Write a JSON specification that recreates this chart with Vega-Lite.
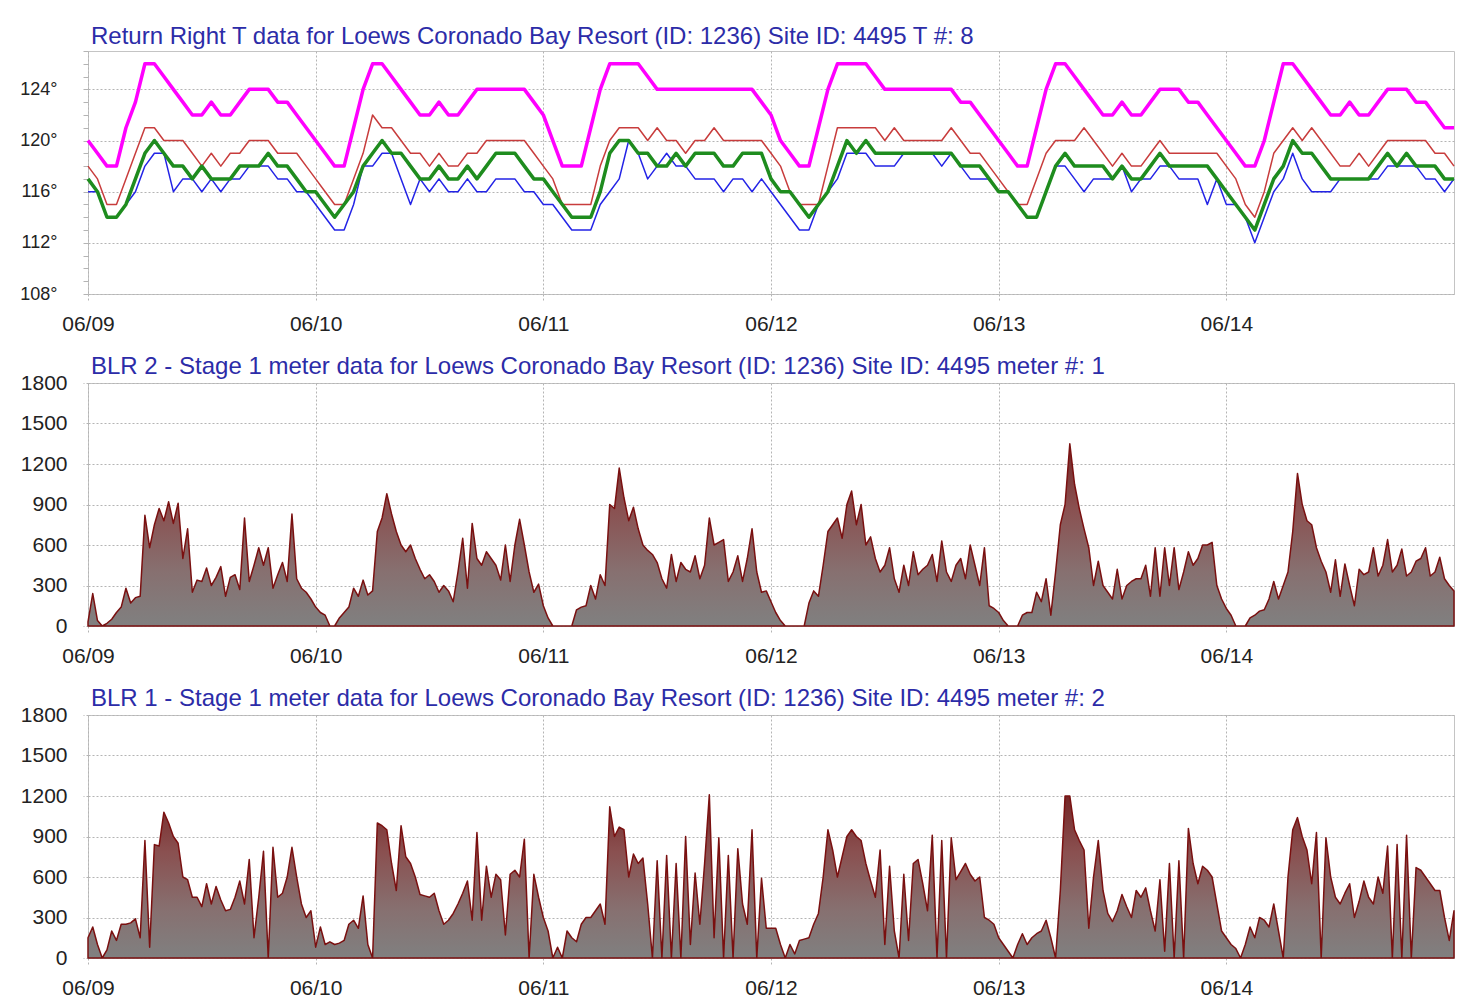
{
"$schema": "https://vega.github.io/schema/vega-lite/v6.json",
"background": "white",
"padding": {"left": 19, "top": 24, "right": 12, "bottom": 4},
"config": {
 "font": "Liberation Sans",
 "view": {"stroke": "#c4c4c4", "strokeWidth": 1},
 "axis": {"labelFont": "Liberation Sans", "labelColor": "#222222", "domain": false, "gridColor": "#b4b4b4", "gridDash": [2, 2], "gridWidth": 1, "tickColor": "#b4b4b4", "tickDash": [2, 2], "title": null},
 "title": {"font": "Liberation Sans", "fontSize": 24, "fontWeight": "normal", "color": "#2c2ca8", "anchor": "start", "frame": "group", "offset": -7, "dx": 3},
 "concat": {"spacing": 19}
},
"datasets": {
"temp": [
{"d":"2014-06-09T00:00","m":120,"r":118,"g":117,"b":116},
{"d":"2014-06-09T01:00","m":119,"r":117,"g":116,"b":116},
{"d":"2014-06-09T02:00","m":118,"r":115,"g":114,"b":114},
{"d":"2014-06-09T03:00","m":118,"r":115,"g":114,"b":114},
{"d":"2014-06-09T04:00","m":121,"r":117,"g":115,"b":115},
{"d":"2014-06-09T05:00","m":123,"r":119,"g":117,"b":116},
{"d":"2014-06-09T06:00","m":126,"r":121,"g":119,"b":118},
{"d":"2014-06-09T07:00","m":126,"r":121,"g":120,"b":119},
{"d":"2014-06-09T08:00","m":125,"r":120,"g":119,"b":119},
{"d":"2014-06-09T09:00","m":124,"r":120,"g":118,"b":116},
{"d":"2014-06-09T10:00","m":123,"r":120,"g":118,"b":117},
{"d":"2014-06-09T11:00","m":122,"r":119,"g":117,"b":117},
{"d":"2014-06-09T12:00","m":122,"r":118,"g":118,"b":116},
{"d":"2014-06-09T13:00","m":123,"r":119,"g":117,"b":117},
{"d":"2014-06-09T14:00","m":122,"r":118,"g":117,"b":116},
{"d":"2014-06-09T15:00","m":122,"r":119,"g":117,"b":117},
{"d":"2014-06-09T16:00","m":123,"r":119,"g":118,"b":117},
{"d":"2014-06-09T17:00","m":124,"r":120,"g":118,"b":118},
{"d":"2014-06-09T18:00","m":124,"r":120,"g":118,"b":118},
{"d":"2014-06-09T19:00","m":124,"r":120,"g":119,"b":118},
{"d":"2014-06-09T20:00","m":123,"r":119,"g":118,"b":117},
{"d":"2014-06-09T21:00","m":123,"r":119,"g":118,"b":117},
{"d":"2014-06-09T22:00","m":122,"r":119,"g":117,"b":116},
{"d":"2014-06-09T23:00","m":121,"r":118,"g":116,"b":116},
{"d":"2014-06-10T00:00","m":120,"r":117,"g":116,"b":115},
{"d":"2014-06-10T01:00","m":119,"r":116,"g":115,"b":114},
{"d":"2014-06-10T02:00","m":118,"r":115,"g":114,"b":113},
{"d":"2014-06-10T03:00","m":118,"r":115,"g":115,"b":113},
{"d":"2014-06-10T04:00","m":121,"r":117,"g":116,"b":115},
{"d":"2014-06-10T05:00","m":124,"r":119,"g":118,"b":118},
{"d":"2014-06-10T06:00","m":126,"r":122,"g":119,"b":118},
{"d":"2014-06-10T07:00","m":126,"r":121,"g":120,"b":119},
{"d":"2014-06-10T08:00","m":125,"r":121,"g":119,"b":119},
{"d":"2014-06-10T09:00","m":124,"r":120,"g":119,"b":117},
{"d":"2014-06-10T10:00","m":123,"r":119,"g":118,"b":115},
{"d":"2014-06-10T11:00","m":122,"r":119,"g":117,"b":117},
{"d":"2014-06-10T12:00","m":122,"r":118,"g":117,"b":116},
{"d":"2014-06-10T13:00","m":123,"r":119,"g":118,"b":117},
{"d":"2014-06-10T14:00","m":122,"r":118,"g":117,"b":116},
{"d":"2014-06-10T15:00","m":122,"r":118,"g":117,"b":116},
{"d":"2014-06-10T16:00","m":123,"r":119,"g":118,"b":117},
{"d":"2014-06-10T17:00","m":124,"r":119,"g":117,"b":116},
{"d":"2014-06-10T18:00","m":124,"r":120,"g":118,"b":116},
{"d":"2014-06-10T19:00","m":124,"r":120,"g":119,"b":117},
{"d":"2014-06-10T20:00","m":124,"r":120,"g":119,"b":117},
{"d":"2014-06-10T21:00","m":124,"r":120,"g":119,"b":117},
{"d":"2014-06-10T22:00","m":124,"r":120,"g":118,"b":116},
{"d":"2014-06-10T23:00","m":123,"r":119,"g":117,"b":116},
{"d":"2014-06-11T00:00","m":122,"r":118,"g":117,"b":115},
{"d":"2014-06-11T01:00","m":120,"r":117,"g":116,"b":115},
{"d":"2014-06-11T02:00","m":118,"r":115,"g":115,"b":114},
{"d":"2014-06-11T03:00","m":118,"r":115,"g":114,"b":113},
{"d":"2014-06-11T04:00","m":118,"r":115,"g":114,"b":113},
{"d":"2014-06-11T05:00","m":121,"r":115,"g":114,"b":113},
{"d":"2014-06-11T06:00","m":124,"r":118,"g":116,"b":115},
{"d":"2014-06-11T07:00","m":126,"r":120,"g":119,"b":116},
{"d":"2014-06-11T08:00","m":126,"r":121,"g":120,"b":117},
{"d":"2014-06-11T09:00","m":126,"r":121,"g":120,"b":120},
{"d":"2014-06-11T10:00","m":126,"r":121,"g":119,"b":119},
{"d":"2014-06-11T11:00","m":125,"r":120,"g":119,"b":117},
{"d":"2014-06-11T12:00","m":124,"r":121,"g":118,"b":118},
{"d":"2014-06-11T13:00","m":124,"r":120,"g":118,"b":119},
{"d":"2014-06-11T14:00","m":124,"r":120,"g":119,"b":118},
{"d":"2014-06-11T15:00","m":124,"r":119,"g":118,"b":118},
{"d":"2014-06-11T16:00","m":124,"r":120,"g":119,"b":117},
{"d":"2014-06-11T17:00","m":124,"r":120,"g":119,"b":117},
{"d":"2014-06-11T18:00","m":124,"r":121,"g":119,"b":117},
{"d":"2014-06-11T19:00","m":124,"r":120,"g":118,"b":116},
{"d":"2014-06-11T20:00","m":124,"r":120,"g":118,"b":117},
{"d":"2014-06-11T21:00","m":124,"r":120,"g":119,"b":117},
{"d":"2014-06-11T22:00","m":124,"r":120,"g":119,"b":116},
{"d":"2014-06-11T23:00","m":123,"r":120,"g":119,"b":117},
{"d":"2014-06-12T00:00","m":122,"r":119,"g":117,"b":116},
{"d":"2014-06-12T01:00","m":120,"r":118,"g":116,"b":115},
{"d":"2014-06-12T02:00","m":119,"r":116,"g":116,"b":114},
{"d":"2014-06-12T03:00","m":118,"r":115,"g":115,"b":113},
{"d":"2014-06-12T04:00","m":118,"r":115,"g":114,"b":113},
{"d":"2014-06-12T05:00","m":121,"r":115,"g":115,"b":115},
{"d":"2014-06-12T06:00","m":124,"r":118,"g":116,"b":116},
{"d":"2014-06-12T07:00","m":126,"r":121,"g":118,"b":117},
{"d":"2014-06-12T08:00","m":126,"r":121,"g":120,"b":119},
{"d":"2014-06-12T09:00","m":126,"r":121,"g":119,"b":119},
{"d":"2014-06-12T10:00","m":126,"r":121,"g":120,"b":119},
{"d":"2014-06-12T11:00","m":125,"r":121,"g":119,"b":118},
{"d":"2014-06-12T12:00","m":124,"r":120,"g":119,"b":118},
{"d":"2014-06-12T13:00","m":124,"r":121,"g":119,"b":118},
{"d":"2014-06-12T14:00","m":124,"r":120,"g":119,"b":119},
{"d":"2014-06-12T15:00","m":124,"r":120,"g":119,"b":119},
{"d":"2014-06-12T16:00","m":124,"r":120,"g":119,"b":119},
{"d":"2014-06-12T17:00","m":124,"r":120,"g":119,"b":119},
{"d":"2014-06-12T18:00","m":124,"r":120,"g":119,"b":118},
{"d":"2014-06-12T19:00","m":124,"r":121,"g":119,"b":119},
{"d":"2014-06-12T20:00","m":123,"r":120,"g":118,"b":118},
{"d":"2014-06-12T21:00","m":123,"r":119,"g":118,"b":117},
{"d":"2014-06-12T22:00","m":122,"r":119,"g":118,"b":117},
{"d":"2014-06-12T23:00","m":121,"r":118,"g":117,"b":117},
{"d":"2014-06-13T00:00","m":120,"r":117,"g":116,"b":116},
{"d":"2014-06-13T01:00","m":119,"r":116,"g":116,"b":116},
{"d":"2014-06-13T02:00","m":118,"r":115,"g":115,"b":115},
{"d":"2014-06-13T03:00","m":118,"r":115,"g":114,"b":114},
{"d":"2014-06-13T04:00","m":121,"r":117,"g":114,"b":114},
{"d":"2014-06-13T05:00","m":124,"r":119,"g":116,"b":116},
{"d":"2014-06-13T06:00","m":126,"r":120,"g":118,"b":118},
{"d":"2014-06-13T07:00","m":126,"r":120,"g":119,"b":118},
{"d":"2014-06-13T08:00","m":125,"r":120,"g":118,"b":117},
{"d":"2014-06-13T09:00","m":124,"r":121,"g":118,"b":116},
{"d":"2014-06-13T10:00","m":123,"r":120,"g":118,"b":117},
{"d":"2014-06-13T11:00","m":122,"r":119,"g":118,"b":117},
{"d":"2014-06-13T12:00","m":122,"r":118,"g":117,"b":117},
{"d":"2014-06-13T13:00","m":123,"r":119,"g":118,"b":118},
{"d":"2014-06-13T14:00","m":122,"r":118,"g":117,"b":116},
{"d":"2014-06-13T15:00","m":122,"r":118,"g":117,"b":117},
{"d":"2014-06-13T16:00","m":123,"r":119,"g":118,"b":117},
{"d":"2014-06-13T17:00","m":124,"r":120,"g":119,"b":118},
{"d":"2014-06-13T18:00","m":124,"r":119,"g":118,"b":118},
{"d":"2014-06-13T19:00","m":124,"r":119,"g":118,"b":117},
{"d":"2014-06-13T20:00","m":123,"r":119,"g":118,"b":117},
{"d":"2014-06-13T21:00","m":123,"r":119,"g":118,"b":117},
{"d":"2014-06-13T22:00","m":122,"r":119,"g":118,"b":115},
{"d":"2014-06-13T23:00","m":121,"r":119,"g":117,"b":117},
{"d":"2014-06-14T00:00","m":120,"r":118,"g":116,"b":115},
{"d":"2014-06-14T01:00","m":119,"r":117,"g":115,"b":115},
{"d":"2014-06-14T02:00","m":118,"r":115,"g":114,"b":114},
{"d":"2014-06-14T03:00","m":118,"r":114,"g":113,"b":112},
{"d":"2014-06-14T04:00","m":120,"r":116,"g":115,"b":114},
{"d":"2014-06-14T05:00","m":123,"r":119,"g":117,"b":116},
{"d":"2014-06-14T06:00","m":126,"r":120,"g":118,"b":117},
{"d":"2014-06-14T07:00","m":126,"r":121,"g":120,"b":119},
{"d":"2014-06-14T08:00","m":125,"r":120,"g":119,"b":117},
{"d":"2014-06-14T09:00","m":124,"r":121,"g":119,"b":116},
{"d":"2014-06-14T10:00","m":123,"r":120,"g":118,"b":116},
{"d":"2014-06-14T11:00","m":122,"r":119,"g":117,"b":116},
{"d":"2014-06-14T12:00","m":122,"r":118,"g":117,"b":117},
{"d":"2014-06-14T13:00","m":123,"r":118,"g":117,"b":117},
{"d":"2014-06-14T14:00","m":122,"r":119,"g":117,"b":117},
{"d":"2014-06-14T15:00","m":122,"r":118,"g":117,"b":117},
{"d":"2014-06-14T16:00","m":123,"r":119,"g":118,"b":117},
{"d":"2014-06-14T17:00","m":124,"r":120,"g":119,"b":118},
{"d":"2014-06-14T18:00","m":124,"r":120,"g":118,"b":118},
{"d":"2014-06-14T19:00","m":124,"r":120,"g":119,"b":118},
{"d":"2014-06-14T20:00","m":123,"r":120,"g":118,"b":118},
{"d":"2014-06-14T21:00","m":123,"r":120,"g":118,"b":117},
{"d":"2014-06-14T22:00","m":122,"r":119,"g":118,"b":117},
{"d":"2014-06-14T23:00","m":121,"r":119,"g":117,"b":116},
{"d":"2014-06-15T00:00","m":121,"r":118,"g":117,"b":117}
],
"mtr": [
{"d":"2014-06-09T00:00","a":30,"c":150},
{"d":"2014-06-09T00:30","a":240,"c":230},
{"d":"2014-06-09T01:00","a":40,"c":100},
{"d":"2014-06-09T01:30","a":0,"c":0},
{"d":"2014-06-09T02:00","a":20,"c":60},
{"d":"2014-06-09T02:30","a":50,"c":200},
{"d":"2014-06-09T03:00","a":100,"c":130},
{"d":"2014-06-09T03:30","a":140,"c":250},
{"d":"2014-06-09T04:00","a":280,"c":250},
{"d":"2014-06-09T04:30","a":170,"c":260},
{"d":"2014-06-09T05:00","a":210,"c":290},
{"d":"2014-06-09T05:30","a":220,"c":150},
{"d":"2014-06-09T06:00","a":820,"c":870},
{"d":"2014-06-09T06:30","a":580,"c":80},
{"d":"2014-06-09T07:00","a":750,"c":840},
{"d":"2014-06-09T07:30","a":870,"c":830},
{"d":"2014-06-09T08:00","a":780,"c":1080},
{"d":"2014-06-09T08:30","a":920,"c":1000},
{"d":"2014-06-09T09:00","a":760,"c":900},
{"d":"2014-06-09T09:30","a":910,"c":850},
{"d":"2014-06-09T10:00","a":500,"c":600},
{"d":"2014-06-09T10:30","a":720,"c":580},
{"d":"2014-06-09T11:00","a":250,"c":450},
{"d":"2014-06-09T11:30","a":340,"c":450},
{"d":"2014-06-09T12:00","a":330,"c":380},
{"d":"2014-06-09T12:30","a":430,"c":550},
{"d":"2014-06-09T13:00","a":300,"c":400},
{"d":"2014-06-09T13:30","a":360,"c":530},
{"d":"2014-06-09T14:00","a":440,"c":430},
{"d":"2014-06-09T14:30","a":220,"c":350},
{"d":"2014-06-09T15:00","a":360,"c":360},
{"d":"2014-06-09T15:30","a":380,"c":450},
{"d":"2014-06-09T16:00","a":270,"c":570},
{"d":"2014-06-09T16:30","a":800,"c":400},
{"d":"2014-06-09T17:00","a":330,"c":730},
{"d":"2014-06-09T17:30","a":450,"c":150},
{"d":"2014-06-09T18:00","a":580,"c":450},
{"d":"2014-06-09T18:30","a":450,"c":790},
{"d":"2014-06-09T19:00","a":580,"c":0},
{"d":"2014-06-09T19:30","a":280,"c":820},
{"d":"2014-06-09T20:00","a":380,"c":450},
{"d":"2014-06-09T20:30","a":470,"c":480},
{"d":"2014-06-09T21:00","a":330,"c":600},
{"d":"2014-06-09T21:30","a":830,"c":820},
{"d":"2014-06-09T22:00","a":350,"c":600},
{"d":"2014-06-09T22:30","a":280,"c":400},
{"d":"2014-06-09T23:00","a":250,"c":300},
{"d":"2014-06-09T23:30","a":200,"c":350},
{"d":"2014-06-10T00:00","a":140,"c":80},
{"d":"2014-06-10T00:30","a":100,"c":230},
{"d":"2014-06-10T01:00","a":80,"c":100},
{"d":"2014-06-10T01:30","a":0,"c":120},
{"d":"2014-06-10T02:00","a":0,"c":100},
{"d":"2014-06-10T02:30","a":60,"c":110},
{"d":"2014-06-10T03:00","a":100,"c":130},
{"d":"2014-06-10T03:30","a":140,"c":250},
{"d":"2014-06-10T04:00","a":280,"c":280},
{"d":"2014-06-10T04:30","a":220,"c":220},
{"d":"2014-06-10T05:00","a":340,"c":460},
{"d":"2014-06-10T05:30","a":230,"c":100},
{"d":"2014-06-10T06:00","a":260,"c":0},
{"d":"2014-06-10T06:30","a":700,"c":1000},
{"d":"2014-06-10T07:00","a":800,"c":980},
{"d":"2014-06-10T07:30","a":980,"c":950},
{"d":"2014-06-10T08:00","a":830,"c":700},
{"d":"2014-06-10T08:30","a":700,"c":500},
{"d":"2014-06-10T09:00","a":600,"c":980},
{"d":"2014-06-10T09:30","a":550,"c":750},
{"d":"2014-06-10T10:00","a":600,"c":700},
{"d":"2014-06-10T10:30","a":500,"c":600},
{"d":"2014-06-10T11:00","a":420,"c":470},
{"d":"2014-06-10T11:30","a":350,"c":460},
{"d":"2014-06-10T12:00","a":380,"c":450},
{"d":"2014-06-10T12:30","a":330,"c":480},
{"d":"2014-06-10T13:00","a":250,"c":350},
{"d":"2014-06-10T13:30","a":300,"c":250},
{"d":"2014-06-10T14:00","a":260,"c":280},
{"d":"2014-06-10T14:30","a":180,"c":330},
{"d":"2014-06-10T15:00","a":400,"c":400},
{"d":"2014-06-10T15:30","a":650,"c":480},
{"d":"2014-06-10T16:00","a":280,"c":570},
{"d":"2014-06-10T16:30","a":760,"c":280},
{"d":"2014-06-10T17:00","a":500,"c":930},
{"d":"2014-06-10T17:30","a":450,"c":280},
{"d":"2014-06-10T18:00","a":550,"c":680},
{"d":"2014-06-10T18:30","a":500,"c":450},
{"d":"2014-06-10T19:00","a":450,"c":620},
{"d":"2014-06-10T19:30","a":340,"c":580},
{"d":"2014-06-10T20:00","a":600,"c":170},
{"d":"2014-06-10T20:30","a":330,"c":620},
{"d":"2014-06-10T21:00","a":600,"c":650},
{"d":"2014-06-10T21:30","a":790,"c":600},
{"d":"2014-06-10T22:00","a":600,"c":880},
{"d":"2014-06-10T22:30","a":400,"c":0},
{"d":"2014-06-10T23:00","a":250,"c":620},
{"d":"2014-06-10T23:30","a":310,"c":450},
{"d":"2014-06-11T00:00","a":150,"c":300},
{"d":"2014-06-11T00:30","a":60,"c":200},
{"d":"2014-06-11T01:00","a":0,"c":0},
{"d":"2014-06-11T01:30","a":0,"c":80},
{"d":"2014-06-11T02:00","a":0,"c":0},
{"d":"2014-06-11T02:30","a":0,"c":200},
{"d":"2014-06-11T03:00","a":0,"c":150},
{"d":"2014-06-11T03:30","a":120,"c":120},
{"d":"2014-06-11T04:00","a":140,"c":250},
{"d":"2014-06-11T04:30","a":150,"c":300},
{"d":"2014-06-11T05:00","a":300,"c":300},
{"d":"2014-06-11T05:30","a":200,"c":350},
{"d":"2014-06-11T06:00","a":380,"c":400},
{"d":"2014-06-11T06:30","a":300,"c":250},
{"d":"2014-06-11T07:00","a":900,"c":1120},
{"d":"2014-06-11T07:30","a":870,"c":900},
{"d":"2014-06-11T08:00","a":1170,"c":970},
{"d":"2014-06-11T08:30","a":950,"c":950},
{"d":"2014-06-11T09:00","a":780,"c":600},
{"d":"2014-06-11T09:30","a":880,"c":770},
{"d":"2014-06-11T10:00","a":720,"c":700},
{"d":"2014-06-11T10:30","a":600,"c":740},
{"d":"2014-06-11T11:00","a":560,"c":400},
{"d":"2014-06-11T11:30","a":530,"c":0},
{"d":"2014-06-11T12:00","a":470,"c":720},
{"d":"2014-06-11T12:30","a":350,"c":0},
{"d":"2014-06-11T13:00","a":280,"c":760},
{"d":"2014-06-11T13:30","a":530,"c":0},
{"d":"2014-06-11T14:00","a":330,"c":700},
{"d":"2014-06-11T14:30","a":470,"c":0},
{"d":"2014-06-11T15:00","a":420,"c":900},
{"d":"2014-06-11T15:30","a":400,"c":100},
{"d":"2014-06-11T16:00","a":520,"c":630},
{"d":"2014-06-11T16:30","a":350,"c":250},
{"d":"2014-06-11T17:00","a":450,"c":700},
{"d":"2014-06-11T17:30","a":800,"c":1210},
{"d":"2014-06-11T18:00","a":600,"c":150},
{"d":"2014-06-11T18:30","a":620,"c":890},
{"d":"2014-06-11T19:00","a":640,"c":0},
{"d":"2014-06-11T19:30","a":330,"c":760},
{"d":"2014-06-11T20:00","a":400,"c":0},
{"d":"2014-06-11T20:30","a":520,"c":810},
{"d":"2014-06-11T21:00","a":330,"c":400},
{"d":"2014-06-11T21:30","a":500,"c":250},
{"d":"2014-06-11T22:00","a":720,"c":950},
{"d":"2014-06-11T22:30","a":400,"c":0},
{"d":"2014-06-11T23:00","a":250,"c":590},
{"d":"2014-06-11T23:30","a":260,"c":220},
{"d":"2014-06-12T00:00","a":180,"c":220},
{"d":"2014-06-12T00:30","a":100,"c":220},
{"d":"2014-06-12T01:00","a":40,"c":100},
{"d":"2014-06-12T01:30","a":0,"c":0},
{"d":"2014-06-12T02:00","a":0,"c":100},
{"d":"2014-06-12T02:30","a":0,"c":30},
{"d":"2014-06-12T03:00","a":0,"c":130},
{"d":"2014-06-12T03:30","a":0,"c":140},
{"d":"2014-06-12T04:00","a":170,"c":150},
{"d":"2014-06-12T04:30","a":260,"c":250},
{"d":"2014-06-12T05:00","a":220,"c":330},
{"d":"2014-06-12T05:30","a":450,"c":600},
{"d":"2014-06-12T06:00","a":700,"c":950},
{"d":"2014-06-12T06:30","a":750,"c":800},
{"d":"2014-06-12T07:00","a":800,"c":600},
{"d":"2014-06-12T07:30","a":650,"c":750},
{"d":"2014-06-12T08:00","a":900,"c":900},
{"d":"2014-06-12T08:30","a":1000,"c":950},
{"d":"2014-06-12T09:00","a":750,"c":900},
{"d":"2014-06-12T09:30","a":900,"c":870},
{"d":"2014-06-12T10:00","a":600,"c":700},
{"d":"2014-06-12T10:30","a":660,"c":570},
{"d":"2014-06-12T11:00","a":500,"c":450},
{"d":"2014-06-12T11:30","a":400,"c":800},
{"d":"2014-06-12T12:00","a":450,"c":100},
{"d":"2014-06-12T12:30","a":580,"c":680},
{"d":"2014-06-12T13:00","a":350,"c":200},
{"d":"2014-06-12T13:30","a":250,"c":0},
{"d":"2014-06-12T14:00","a":450,"c":620},
{"d":"2014-06-12T14:30","a":300,"c":130},
{"d":"2014-06-12T15:00","a":550,"c":700},
{"d":"2014-06-12T15:30","a":380,"c":730},
{"d":"2014-06-12T16:00","a":420,"c":550},
{"d":"2014-06-12T16:30","a":450,"c":350},
{"d":"2014-06-12T17:00","a":530,"c":910},
{"d":"2014-06-12T17:30","a":330,"c":0},
{"d":"2014-06-12T18:00","a":630,"c":870},
{"d":"2014-06-12T18:30","a":400,"c":0},
{"d":"2014-06-12T19:00","a":330,"c":890},
{"d":"2014-06-12T19:30","a":450,"c":580},
{"d":"2014-06-12T20:00","a":500,"c":640},
{"d":"2014-06-12T20:30","a":350,"c":700},
{"d":"2014-06-12T21:00","a":600,"c":620},
{"d":"2014-06-12T21:30","a":450,"c":570},
{"d":"2014-06-12T22:00","a":300,"c":600},
{"d":"2014-06-12T22:30","a":580,"c":300},
{"d":"2014-06-12T23:00","a":150,"c":280},
{"d":"2014-06-12T23:30","a":130,"c":250},
{"d":"2014-06-13T00:00","a":100,"c":150},
{"d":"2014-06-13T00:30","a":40,"c":100},
{"d":"2014-06-13T01:00","a":0,"c":50},
{"d":"2014-06-13T01:30","a":0,"c":0},
{"d":"2014-06-13T02:00","a":0,"c":100},
{"d":"2014-06-13T02:30","a":80,"c":180},
{"d":"2014-06-13T03:00","a":100,"c":100},
{"d":"2014-06-13T03:30","a":100,"c":150},
{"d":"2014-06-13T04:00","a":250,"c":180},
{"d":"2014-06-13T04:30","a":180,"c":200},
{"d":"2014-06-13T05:00","a":350,"c":280},
{"d":"2014-06-13T05:30","a":80,"c":150},
{"d":"2014-06-13T06:00","a":400,"c":0},
{"d":"2014-06-13T06:30","a":750,"c":500},
{"d":"2014-06-13T07:00","a":900,"c":1200},
{"d":"2014-06-13T07:30","a":1350,"c":1200},
{"d":"2014-06-13T08:00","a":1050,"c":950},
{"d":"2014-06-13T08:30","a":870,"c":870},
{"d":"2014-06-13T09:00","a":720,"c":800},
{"d":"2014-06-13T09:30","a":580,"c":220},
{"d":"2014-06-13T10:00","a":300,"c":600},
{"d":"2014-06-13T10:30","a":480,"c":870},
{"d":"2014-06-13T11:00","a":300,"c":500},
{"d":"2014-06-13T11:30","a":250,"c":330},
{"d":"2014-06-13T12:00","a":200,"c":270},
{"d":"2014-06-13T12:30","a":420,"c":350},
{"d":"2014-06-13T13:00","a":200,"c":470},
{"d":"2014-06-13T13:30","a":300,"c":380},
{"d":"2014-06-13T14:00","a":330,"c":300},
{"d":"2014-06-13T14:30","a":350,"c":500},
{"d":"2014-06-13T15:00","a":350,"c":450},
{"d":"2014-06-13T15:30","a":450,"c":520},
{"d":"2014-06-13T16:00","a":220,"c":350},
{"d":"2014-06-13T16:30","a":580,"c":200},
{"d":"2014-06-13T17:00","a":220,"c":580},
{"d":"2014-06-13T17:30","a":580,"c":50},
{"d":"2014-06-13T18:00","a":300,"c":700},
{"d":"2014-06-13T18:30","a":580,"c":0},
{"d":"2014-06-13T19:00","a":270,"c":720},
{"d":"2014-06-13T19:30","a":400,"c":0},
{"d":"2014-06-13T20:00","a":550,"c":960},
{"d":"2014-06-13T20:30","a":450,"c":700},
{"d":"2014-06-13T21:00","a":500,"c":550},
{"d":"2014-06-13T21:30","a":600,"c":680},
{"d":"2014-06-13T22:00","a":600,"c":650},
{"d":"2014-06-13T22:30","a":620,"c":600},
{"d":"2014-06-13T23:00","a":300,"c":400},
{"d":"2014-06-13T23:30","a":200,"c":200},
{"d":"2014-06-14T00:00","a":130,"c":150},
{"d":"2014-06-14T00:30","a":80,"c":100},
{"d":"2014-06-14T01:00","a":0,"c":70},
{"d":"2014-06-14T01:30","a":0,"c":0},
{"d":"2014-06-14T02:00","a":0,"c":100},
{"d":"2014-06-14T02:30","a":60,"c":230},
{"d":"2014-06-14T03:00","a":80,"c":150},
{"d":"2014-06-14T03:30","a":110,"c":300},
{"d":"2014-06-14T04:00","a":120,"c":280},
{"d":"2014-06-14T04:30","a":200,"c":230},
{"d":"2014-06-14T05:00","a":330,"c":400},
{"d":"2014-06-14T05:30","a":200,"c":200},
{"d":"2014-06-14T06:00","a":300,"c":0},
{"d":"2014-06-14T06:30","a":400,"c":600},
{"d":"2014-06-14T07:00","a":700,"c":950},
{"d":"2014-06-14T07:30","a":1130,"c":1040},
{"d":"2014-06-14T08:00","a":900,"c":900},
{"d":"2014-06-14T08:30","a":780,"c":800},
{"d":"2014-06-14T09:00","a":750,"c":550},
{"d":"2014-06-14T09:30","a":580,"c":930},
{"d":"2014-06-14T10:00","a":480,"c":0},
{"d":"2014-06-14T10:30","a":400,"c":890},
{"d":"2014-06-14T11:00","a":250,"c":600},
{"d":"2014-06-14T11:30","a":490,"c":450},
{"d":"2014-06-14T12:00","a":220,"c":400},
{"d":"2014-06-14T12:30","a":460,"c":480},
{"d":"2014-06-14T13:00","a":300,"c":550},
{"d":"2014-06-14T13:30","a":150,"c":300},
{"d":"2014-06-14T14:00","a":420,"c":420},
{"d":"2014-06-14T14:30","a":380,"c":570},
{"d":"2014-06-14T15:00","a":400,"c":450},
{"d":"2014-06-14T15:30","a":580,"c":400},
{"d":"2014-06-14T16:00","a":370,"c":600},
{"d":"2014-06-14T16:30","a":450,"c":480},
{"d":"2014-06-14T17:00","a":640,"c":830},
{"d":"2014-06-14T17:30","a":400,"c":0},
{"d":"2014-06-14T18:00","a":450,"c":840},
{"d":"2014-06-14T18:30","a":570,"c":0},
{"d":"2014-06-14T19:00","a":370,"c":910},
{"d":"2014-06-14T19:30","a":400,"c":0},
{"d":"2014-06-14T20:00","a":480,"c":670},
{"d":"2014-06-14T20:30","a":500,"c":650},
{"d":"2014-06-14T21:00","a":580,"c":600},
{"d":"2014-06-14T21:30","a":370,"c":550},
{"d":"2014-06-14T22:00","a":400,"c":500},
{"d":"2014-06-14T22:30","a":510,"c":500},
{"d":"2014-06-14T23:00","a":350,"c":300},
{"d":"2014-06-14T23:30","a":300,"c":130},
{"d":"2014-06-15T00:00","a":260,"c":350}
]
},
"vconcat": [
{
 "title": {"text": "Return Right T data for Loews Coronado Bay Resort (ID: 1236) Site ID: 4495 T #: 8"},
 "width": 1366, "height": 243,
 "data": {"name": "temp"},
 "transform": [{"fold": ["m", "r", "b", "g"], "as": ["s", "v"]}],
 "mark": {"type": "line", "interpolate": "linear", "strokeJoin": "round"},
 "encoding": {
  "x": {"field": "d", "type": "temporal",
   "scale": {"domain": [{"year": 2014, "month": 6, "date": 9}, {"year": 2014, "month": 6, "date": 15}]},
   "axis": {"values": [{"year": 2014, "month": 6, "date": 9}, {"year": 2014, "month": 6, "date": 10}, {"year": 2014, "month": 6, "date": 11}, {"year": 2014, "month": 6, "date": 12}, {"year": 2014, "month": 6, "date": 13}, {"year": 2014, "month": 6, "date": 14}],
    "format": "%m/%d", "labelFontSize": 21, "labelFlush": false, "labelOverlap": false, "tickSize": 8, "labelPadding": 11, "grid": true}},
  "y": {"field": "v", "type": "quantitative", "scale": {"domain": [108, 127], "nice": false},
   "axis": {"values": [108,109,110,111,112,113,114,115,116,117,118,119,120,121,122,123,124,125,126,127],
    "labelExpr": "datum.value % 4 == 0 ? datum.value + '°' : ''", "labelFontSize": 18, "labelOverlap": false,
    "labelPadding": 26, "tickSize": 5, "tickDash": [],
    "gridOpacity": {"condition": {"test": "datum.value % 4 == 0", "value": 1}, "value": 0}}},
  "color": {"field": "s", "type": "nominal", "scale": {"domain": ["m", "r", "b", "g"], "range": ["#ff00ff", "#c83c3c", "#2323e6", "#1e8c1e"]}, "legend": null},
  "strokeWidth": {"condition": {"test": "datum.s == 'm' || datum.s == 'g'", "value": 3.5}, "value": 1.5}
 }
},
{
 "title": {"text": "BLR 2 - Stage 1 meter data for Loews Coronado Bay Resort (ID: 1236) Site ID: 4495 meter #: 1"},
 "width": 1366, "height": 243,
 "data": {"name": "mtr"},
 "mark": {"type": "area", "stroke": "#7a1010", "strokeWidth": 1.5, "strokeJoin": "round",
  "fill": {"gradient": "linear", "x1": 0, "y1": 0, "x2": 0, "y2": 1, "stops": [{"offset": 0, "color": "#742626"}, {"offset": 0.35, "color": "#8a5050"}, {"offset": 0.7, "color": "#877070"}, {"offset": 1, "color": "#808080"}]}},
 "encoding": {
  "x": {"field": "d", "type": "temporal",
   "scale": {"domain": [{"year": 2014, "month": 6, "date": 9}, {"year": 2014, "month": 6, "date": 15}]},
   "axis": {"values": [{"year": 2014, "month": 6, "date": 9}, {"year": 2014, "month": 6, "date": 10}, {"year": 2014, "month": 6, "date": 11}, {"year": 2014, "month": 6, "date": 12}, {"year": 2014, "month": 6, "date": 13}, {"year": 2014, "month": 6, "date": 14}],
    "format": "%m/%d", "labelFontSize": 21, "labelFlush": false, "labelOverlap": false, "tickSize": 8, "labelPadding": 11, "grid": true}},
  "y": {"field": "a", "type": "quantitative", "scale": {"domain": [0, 1800], "nice": false},
   "axis": {"values": [0, 300, 600, 900, 1200, 1500, 1800], "labelFontSize": 21, "labelOverlap": false, "labelPadding": 16, "tickSize": 5, "format": "d"}}
 }
},
{
 "title": {"text": "BLR 1 - Stage 1 meter data for Loews Coronado Bay Resort (ID: 1236) Site ID: 4495 meter #: 2"},
 "width": 1366, "height": 243,
 "data": {"name": "mtr"},
 "mark": {"type": "area", "stroke": "#7a1010", "strokeWidth": 1.5, "strokeJoin": "round",
  "fill": {"gradient": "linear", "x1": 0, "y1": 0, "x2": 0, "y2": 1, "stops": [{"offset": 0, "color": "#742626"}, {"offset": 0.35, "color": "#8a5050"}, {"offset": 0.7, "color": "#877070"}, {"offset": 1, "color": "#808080"}]}},
 "encoding": {
  "x": {"field": "d", "type": "temporal",
   "scale": {"domain": [{"year": 2014, "month": 6, "date": 9}, {"year": 2014, "month": 6, "date": 15}]},
   "axis": {"values": [{"year": 2014, "month": 6, "date": 9}, {"year": 2014, "month": 6, "date": 10}, {"year": 2014, "month": 6, "date": 11}, {"year": 2014, "month": 6, "date": 12}, {"year": 2014, "month": 6, "date": 13}, {"year": 2014, "month": 6, "date": 14}],
    "format": "%m/%d", "labelFontSize": 21, "labelFlush": false, "labelOverlap": false, "tickSize": 8, "labelPadding": 11, "grid": true}},
  "y": {"field": "c", "type": "quantitative", "scale": {"domain": [0, 1800], "nice": false},
   "axis": {"values": [0, 300, 600, 900, 1200, 1500, 1800], "labelFontSize": 21, "labelOverlap": false, "labelPadding": 16, "tickSize": 5, "format": "d"}}
 }
}
]
}
